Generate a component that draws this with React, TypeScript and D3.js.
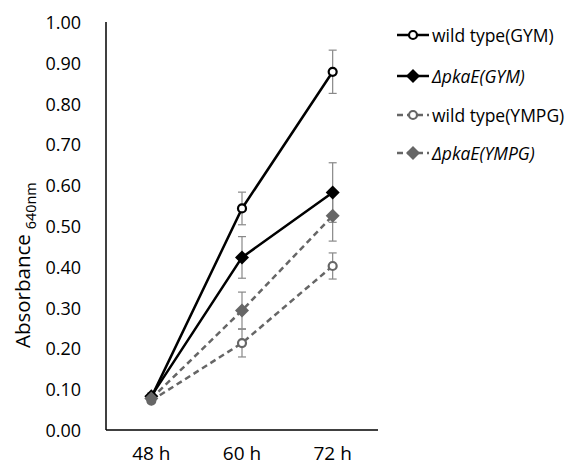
import React from "react";
import * as d3 from "d3";

const categories = ["48 h", "60 h", "72 h"];
const seriesNames = ["wild type(GYM)", "ΔpkaE(GYM)", "wild type(YMPG)", "ΔpkaE(YMPG)"];
const wtGym = [0.08, 0.543, 0.878];
const wtGymErr = [0.008, 0.04, 0.053];
const pkaGym = [0.083, 0.423, 0.582];
const pkaGymErr = [0.008, 0.051, 0.073];
const wtYmpg = [0.072, 0.213, 0.402];
const wtYmpgErr = [0.006, 0.034, 0.032];
const pkaYmpg = [0.077, 0.293, 0.525];
const pkaYmpgErr = [0.007, 0.045, 0.062];
const yTicks = [0, 0.1, 0.2, 0.3, 0.4, 0.5, 0.6, 0.7, 0.8, 0.9, 1.0];

const font = "'Open Sans', sans-serif";

const series = [
  { name: seriesNames[0], values: wtGym, err: wtGymErr, color: "#000", dashed: false, shape: "circle", italic: false },
  { name: seriesNames[1], values: pkaGym, err: pkaGymErr, color: "#000", dashed: false, shape: "diamond", italic: true },
  { name: seriesNames[2], values: wtYmpg, err: wtYmpgErr, color: "#666", dashed: true, shape: "circle", italic: false },
  { name: seriesNames[3], values: pkaYmpg, err: pkaYmpgErr, color: "#666", dashed: true, shape: "diamond", italic: true },
];

function Marker({ x, y, shape, color }: { x: number; y: number; shape: string; color: string }) {
  if (shape === "circle") {
    return <circle cx={x} cy={y} r={4} fill="#fff" stroke={color} strokeWidth={2.2} />;
  }
  const s = 7;
  return <path d={`M${x},${y - s}L${x + s},${y}L${x},${y + s}L${x - s},${y}Z`} fill={color} />;
}

export default function App() {
  const width = 577;
  const height = 468;
  const left = 106;
  const right = 378;
  const top = 22;
  const bottom = 430;

  const x = d3.scaleBand().domain(categories).range([left, right]).padding(0);
  const y = d3.scaleLinear().domain([0, 1]).range([bottom, top]);
  const cx = (c: string) => (x(c) as number) + x.bandwidth() / 2;

  const line = d3
    .line<number>()
    .x((_, i) => cx(categories[i]))
    .y((d) => y(d));

  const legendY = [35, 76, 115, 153];

  return (
    <svg width={width} height={height} style={{ position: "absolute", left: 0, top: 0 }} fontFamily={font}>
      <rect width={width} height={height} fill="#fff" />
      {/* axes */}
      <line x1={left} x2={left} y1={top} y2={bottom} stroke="#000" strokeWidth={1.5} />
      <line x1={left} x2={right} y1={bottom} y2={bottom} stroke="#000" strokeWidth={1.5} />
      {yTicks.map((t) => (
        <text key={t} x={81} y={y(t)} textAnchor="end" dominantBaseline="central" fontSize={18} fill="#000">
          {t.toFixed(2)}
        </text>
      ))}
      {categories.map((c) => (
        <text key={c} x={cx(c)} y={453} textAnchor="middle" dominantBaseline="central" fontSize={19} fill="#000">
          {c}
        </text>
      ))}
      <text transform="translate(30,348) rotate(-90)" textAnchor="start" fontSize={20.5} fill="#000">
        Absorbance
        <tspan fontSize={14.4} dy={6} dx={5}>640nm</tspan>
      </text>
      {/* error bars */}
      {series.map((s) =>
        s.values.map((v, i) => {
          const px = cx(categories[i]);
          const y1 = y(v + s.err[i]);
          const y2 = y(v - s.err[i]);
          return (
            <g key={s.name + i} stroke="#888" strokeWidth={1.2}>
              <line x1={px} x2={px} y1={y1} y2={y2} />
              <line x1={px - 4} x2={px + 4} y1={y1} y2={y1} />
              <line x1={px - 4} x2={px + 4} y1={y2} y2={y2} />
            </g>
          );
        })
      )}
      {/* lines */}
      {series.map((s) => (
        <path
          key={s.name}
          d={line(s.values) as string}
          fill="none"
          stroke={s.color}
          strokeWidth={2.5}
          strokeDasharray={s.dashed ? "6,4" : undefined}
        />
      ))}
      {series.map((s) =>
        s.values.map((v, i) => (
          <Marker key={s.name + "m" + i} x={cx(categories[i])} y={y(v)} shape={s.shape} color={s.color} />
        ))
      )}
      {/* legend */}
      {series.map((s, i) => (
        <g key={s.name + "leg"}>
          <line
            x1={397}
            x2={429}
            y1={legendY[i]}
            y2={legendY[i]}
            stroke={s.color}
            strokeWidth={2.5}
            strokeDasharray={s.dashed ? "6,4" : undefined}
          />
          <Marker x={413} y={legendY[i]} shape={s.shape} color={s.color} />
          <text x={432} y={legendY[i]} dominantBaseline="central" fontSize={17.5} fill="#000" fontStyle={s.italic ? "italic" : "normal"}>
            {s.name}
          </text>
        </g>
      ))}
    </svg>
  );
}
